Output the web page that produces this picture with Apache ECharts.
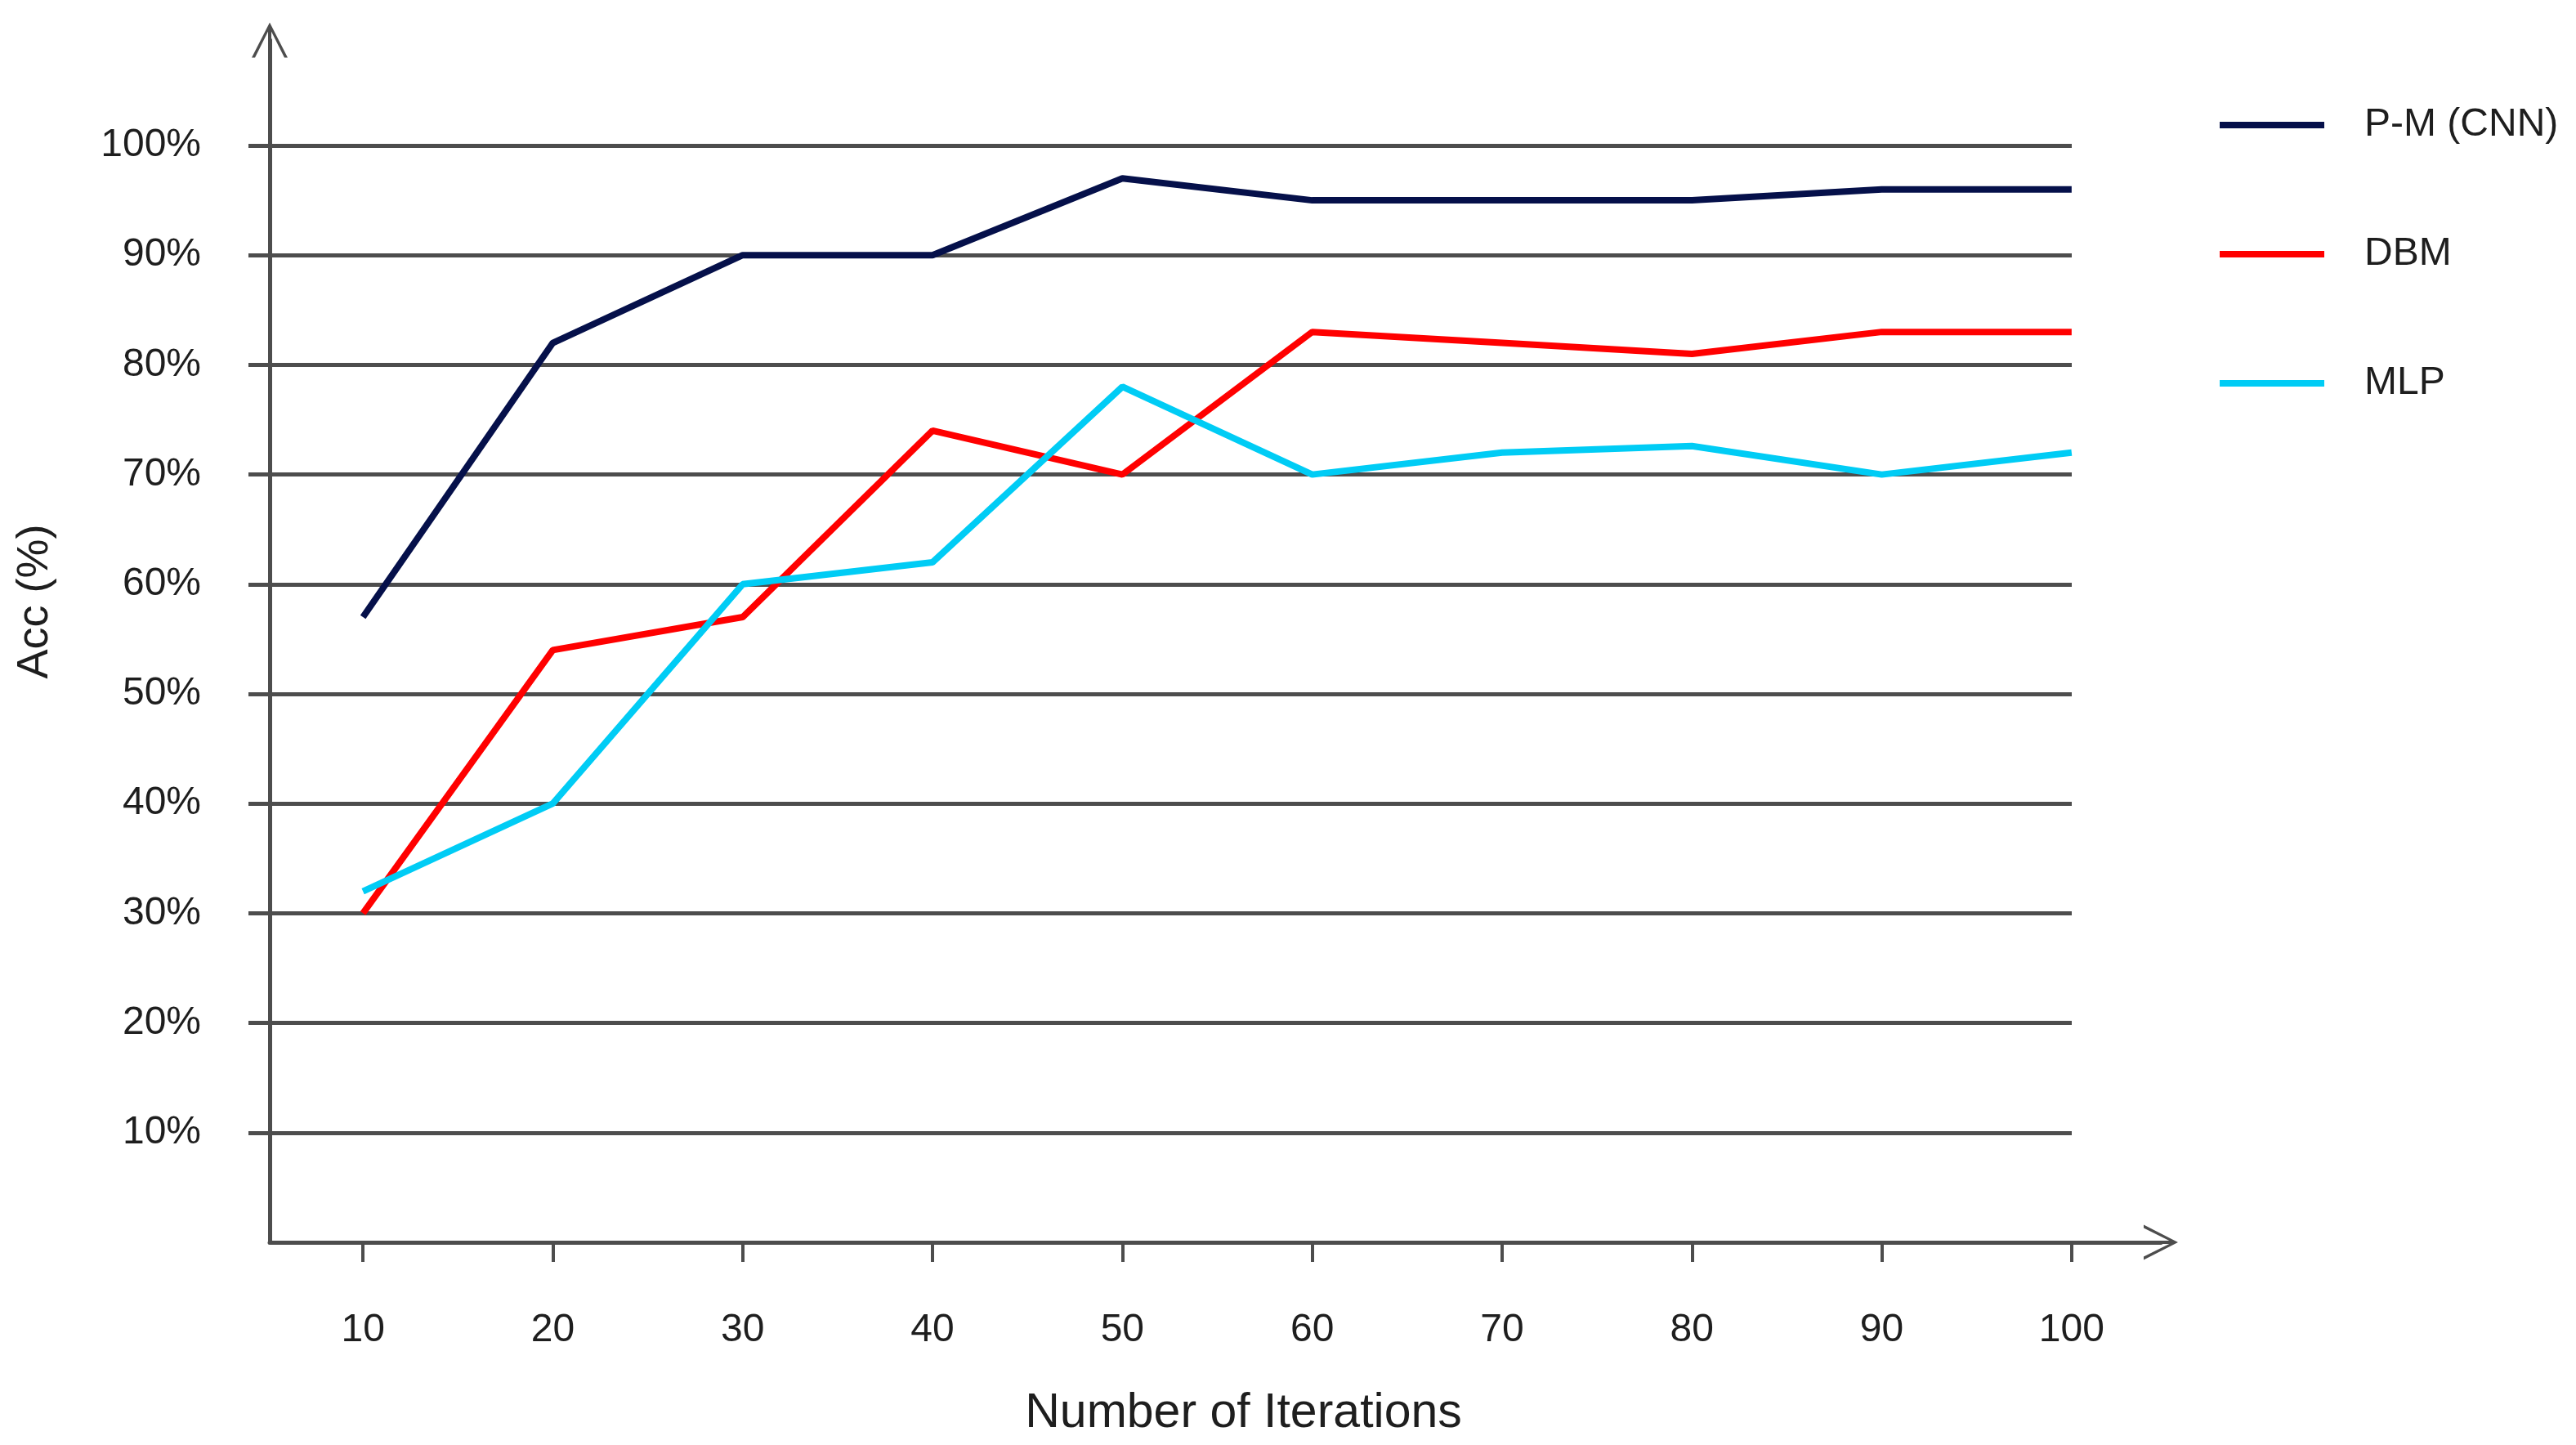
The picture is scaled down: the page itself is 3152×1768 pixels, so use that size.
<!DOCTYPE html>
<html>
<head>
<meta charset="utf-8">
<script src="https://cdn.jsdelivr.net/npm/echarts@6/dist/echarts.min.js"></script>
<style>
html,body{margin:0;padding:0;background:#fff;}
#chart{width:3152px;height:1768px;}
</style>
</head>
<body>
<div id="chart"></div>
<script>
const categories = ['10','20','30','40','50','60','70','80','90','100'];
const pmCnn = [57, 82, 90, 90, 97, 95, 95, 95, 96, 96];
const dbm   = [30, 54, 57, 74, 70, 83, 82, 81, 83, 83];
const mlp   = [32, 40, 60, 62, 78, 70, 72, 72.6, 70, 72];
const seriesNames = ['P-M (CNN)', 'DBM', 'MLP'];
const yTicks = [0, 100, 10];

const FONT = "'Liberation Sans', Arial, sans-serif";
const AX = '#4d4d4d';
const TXT = '#1e1e1e';
const arrowPath = 'path://M0,43 L22,0 L44,43 L40,43 L24,11 L24,43 L20,43 L20,11 L4,43 Z';

const chart = echarts.init(document.getElementById('chart'), null, {renderer:'canvas'});
const option = {
  backgroundColor: '#ffffff',
  animation: false,
  textStyle: {fontFamily: FONT},
  grid: [
    {left: 330, right: 508, top: 49, bottom: 248},
    {left: 304, right: 617, top: 178, bottom: 248},
    {left: 328, right: 501, top: 178, bottom: 248}
  ],
  xAxis: [
    {gridIndex: 0, type: 'value', min: 0, max: 1,
     axisLine: {show: true, lineStyle: {color: AX, width: 5}, symbol: ['none', arrowPath], symbolSize: [54, 42]},
     axisTick: {show: false}, axisLabel: {show: false}, splitLine: {show: false}},
    {gridIndex: 1, type: 'value', min: 0, max: 1,
     axisLine: {show: false}, axisTick: {show: false}, axisLabel: {show: false}, splitLine: {show: false}},
    {gridIndex: 2, type: 'category', data: categories, boundaryGap: true,
     axisLine: {show: false},
     axisTick: {show: true, alignWithLabel: true, length: 24, lineStyle: {color: AX, width: 4}},
     axisLabel: {show: true, margin: 84, fontSize: 48, color: TXT, fontFamily: FONT},
     splitLine: {show: false},
     name: 'Number of Iterations', nameLocation: 'middle', nameGap: 180,
     nameTextStyle: {fontSize: 59, color: TXT, fontFamily: FONT, padding: [0, 0, 0, 64]}}
  ],
  yAxis: [
    {gridIndex: 0, type: 'value', min: 0, max: 1,
     axisLine: {show: true, lineStyle: {color: AX, width: 5}, symbol: ['none', arrowPath], symbolSize: [44, 43]},
     axisTick: {show: false}, axisLabel: {show: false}, splitLine: {show: false}},
    {gridIndex: 1, type: 'value', min: yTicks[0], max: yTicks[1], interval: yTicks[2],
     axisLine: {show: false}, axisTick: {show: false}, axisLabel: {show: false},
     splitLine: {show: true, showMinLine: false, lineStyle: {color: AX, width: 5}}},
    {gridIndex: 2, type: 'value', min: yTicks[0], max: yTicks[1], interval: yTicks[2],
     axisLine: {show: false}, axisTick: {show: false}, splitLine: {show: false},
     axisLabel: {show: true, margin: 82, fontSize: 48, color: TXT, fontFamily: FONT, padding: [8, 0, 0, 0],
       formatter: v => v === 0 ? '' : v + '%'}}
  ],
  legend: {
    show: true, orient: 'vertical', left: 2711, top: 124,
    itemWidth: 128, itemHeight: 8, itemGap: 110, icon: 'rect',
    textStyle: {fontSize: 48, color: TXT, fontFamily: FONT, lineHeight: 48, padding: [0, 0, 0, 44]},
    data: seriesNames
  },
  graphic: [
    {type: 'text', x: 43, y: 736, rotation: Math.PI / 2,
     style: {text: 'Acc (%)', font: '54px ' + FONT, fill: TXT, textAlign: 'center', textVerticalAlign: 'middle'}}
  ],
  series: [
    {name: seriesNames[0], type: 'line', xAxisIndex: 2, yAxisIndex: 2, data: pmCnn,
     showSymbol: false, symbol: 'none', lineStyle: {color: '#05104a', width: 8}, itemStyle: {color: '#05104a'}},
    {name: seriesNames[1], type: 'line', xAxisIndex: 2, yAxisIndex: 2, data: dbm,
     showSymbol: false, symbol: 'none', lineStyle: {color: '#ff0000', width: 8}, itemStyle: {color: '#ff0000'}},
    {name: seriesNames[2], type: 'line', xAxisIndex: 2, yAxisIndex: 2, data: mlp,
     showSymbol: false, symbol: 'none', lineStyle: {color: '#00ccf5', width: 8}, itemStyle: {color: '#00ccf5'}}
  ]
};
chart.setOption(option);
</script>
</body>
</html>
